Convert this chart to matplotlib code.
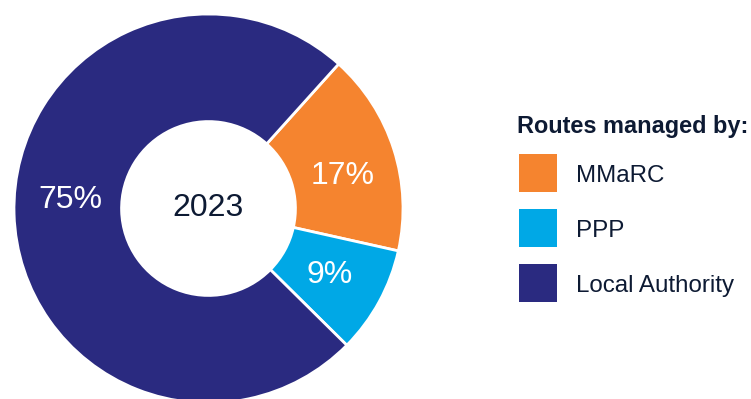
import matplotlib
matplotlib.use('Agg')
import matplotlib.pyplot as plt
from matplotlib.patches import Rectangle
import numpy as np

plt.rcParams['font.family'] = ['Liberation Sans', 'DejaVu Sans']

# Part des routes par gestionnaire (2023)
categories = ['MMaRC', 'PPP', 'Local Authority']
values = [17, 9, 75]
colors = ['#f5842f', '#00a8e6', '#2a2a80']
annee = '2023'
titre_legende = 'Routes managed by:'
texte_fonce = '#0d1a33'

W, H = 751, 399
fig = plt.figure(figsize=(W / 100, H / 100), dpi=100)

# axes du donut, en pixels : centre (208.5, 190.5), rayon 194.5
cx, cy, R = 208.5, 190.5, 194.5
ax = fig.add_axes([(cx - R) / W, (cy - R) / H, 2 * R / W, 2 * R / H])
wedges, _ = ax.pie(values, colors=colors, startangle=48, counterclock=False,
                   radius=1, wedgeprops=dict(width=0.553, edgecolor='white', linewidth=2))
ax.set_xlim(-1, 1)
ax.set_ylim(-1, 1)
ax.set_aspect('equal')
ax.axis('off')

# pourcentages dans chaque part
decalage = {'Local Authority': -5, 'MMaRC': -4}
for w, v, cat in zip(wedges, values, categories):
    ang = np.deg2rad((w.theta1 + w.theta2) / 2 + decalage.get(cat, 0))
    r = 0.71
    ax.text(r * np.cos(ang), r * np.sin(ang), f'{v}%', color='white',
            fontsize=23, ha='center', va='center')

ax.text(0, 0, annee, ha='center', va='center', fontsize=23, color=texte_fonce)

# légende dessinée à la main
fig.text(517 / W, 1 - 133 / H, titre_legende, fontsize=16.9, fontweight='bold',
         color=texte_fonce, ha='left', va='baseline')
for i, (cat, col) in enumerate(zip(categories, colors)):
    top = 154 + 55 * i
    fig.add_artist(Rectangle((519 / W, 1 - (top + 38) / H), 38 / W, 38 / H,
                             facecolor=col, edgecolor='none', transform=fig.transFigure))
    fig.text(576 / W, 1 - (182 + 55 * i) / H, cat, fontsize=17.4, color=texte_fonce,
             ha='left', va='baseline')

fig.savefig('out.png', dpi=100, facecolor='white')
